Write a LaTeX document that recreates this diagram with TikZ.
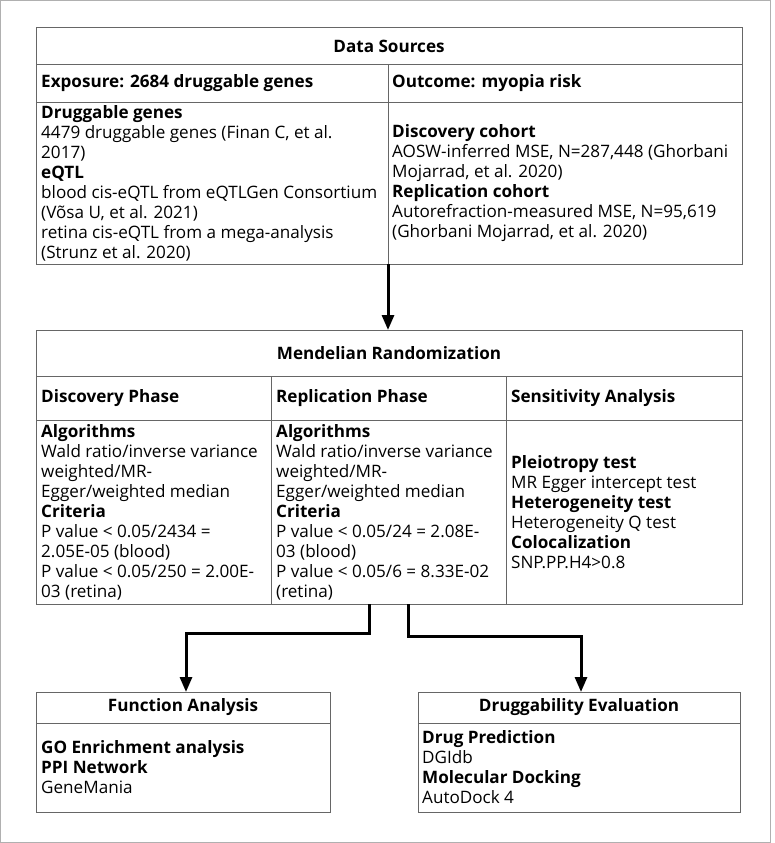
\documentclass[tikz,border=0pt]{standalone}
\usepackage{fontspec}
\setmainfont{Open Sans}
\usetikzlibrary{arrows.meta}
\definecolor{tline}{HTML}{666666}
\definecolor{frame}{HTML}{B0B0B0}
\newcommand{\fs}{\fontsize{17.1pt}{20pt}\selectfont}
\begin{document}
\begin{tikzpicture}[x=1pt,y=-1pt,
  cell/.style={draw=tline,line width=1pt,anchor=north west,inner sep=0pt,outer sep=0pt},
  ttl/.style={font=\fs\bfseries,inner sep=0pt},
  txt/.style={font=\fs,align=left,anchor=west,inner sep=0pt},
  hd/.style={font=\fs\bfseries,anchor=west,inner sep=0pt},
  flow/.style={line width=3pt,-{Triangle[length=15pt,width=12pt]}}]
\useasboundingbox (0,0) rectangle (775,843);
\draw[frame,line width=1pt] (0.5,0.5) rectangle (770,842);

% Data sources
\node[cell,minimum width=706pt,minimum height=37pt] (dsT) at (36,28) {};
\node[ttl] (dsTt) at (dsT.center) {Data Sources};
\node[cell,minimum width=352pt,minimum height=37pt] (dsEH) at (36,65) {};
\node[cell,minimum width=354pt,minimum height=37pt] (dsOH) at (388,65) {};
\node[hd] (dsEHt) at (41,83.5) {Exposure: 2684 druggable genes};
\node[hd] (dsOHt) at (392,83.5) {Outcome: myopia risk};
\node[cell,minimum width=352pt,minimum height=162pt] (dsEB) at (36,102) {};
\node[cell,minimum width=354pt,minimum height=162pt] (ds) at (388,102) {};
\node[txt] (dsEBt) at (41,183) {\textbf{Druggable genes}\\4479 druggable genes (Finan C, et al.\\2017)\\\textbf{eQTL}\\blood cis-eQTL from eQTLGen Consortium\\(Võsa U, et al. 2021)\\retina cis-eQTL from a mega-analysis\\(Strunz et al. 2020)};
\node[txt] (dsOBt) at (392,183) {\textbf{Discovery cohort}\\AOSW-inferred MSE, N=287,448 (Ghorbani\\Mojarrad, et al. 2020)\\\textbf{Replication cohort}\\Autorefraction-measured MSE, N=95,619\\(Ghorbani Mojarrad, et al. 2020)};

% Mendelian randomization
\node[cell,minimum width=706pt,minimum height=46pt] (mr) at (36,330) {};
\node[ttl] (mrt) at (mr.center) {Mendelian Randomization};
\node[cell,minimum width=235pt,minimum height=44pt] (mrH1) at (36,376) {};
\node[cell,minimum width=235pt,minimum height=44pt] (mrH2) at (271,376) {};
\node[cell,minimum width=236pt,minimum height=44pt] (mrH3) at (506,376) {};
\node[hd] (mrH1t) at (41,398) {Discovery Phase};
\node[hd] (mrH2t) at (276,398) {Replication Phase};
\node[hd] (mrH3t) at (511,398) {Sensitivity Analysis};
\node[cell,minimum width=235pt,minimum height=184pt] (mrB1) at (36,420) {};
\node[cell,minimum width=235pt,minimum height=184pt] (mrB2) at (271,420) {};
\node[cell,minimum width=236pt,minimum height=184pt] (mrB3) at (506,420) {};
\node[txt] (mrB1t) at (41,512) {\textbf{Algorithms}\\Wald ratio/inverse variance\\weighted/MR-\\Egger/weighted median\\\textbf{Criteria}\\P value < 0.05/2434 =\\2.05E-05 (blood)\\P value < 0.05/250 = 2.00E-\\03 (retina)};
\node[txt] (mrB2t) at (276,512) {\textbf{Algorithms}\\Wald ratio/inverse variance\\weighted/MR-\\Egger/weighted median\\\textbf{Criteria}\\P value < 0.05/24 = 2.08E-\\03 (blood)\\P value < 0.05/6 = 8.33E-02\\(retina)};
\node[txt] (mrB3t) at (511,512) {\textbf{Pleiotropy test}\\MR Egger intercept test\\\textbf{Heterogeneity test}\\Heterogeneity Q test\\\textbf{Colocalization}\\SNP.PP.H4>0.8};

% Function analysis
\node[cell,minimum width=294pt,minimum height=31pt] (fa) at (36,692) {};
\node[ttl] (fat) at (fa.center) {Function Analysis};
\node[cell,minimum width=294pt,minimum height=89pt] (faB) at (36,723) {};
\node[txt] (faBt) at (41,767) {\textbf{GO Enrichment analysis}\\\textbf{PPI Network}\\GeneMania};

% Druggability evaluation
\node[cell,minimum width=322pt,minimum height=31pt] (de) at (418,692) {};
\node[ttl] (det) at (de.center) {Druggability Evaluation};
\node[cell,minimum width=322pt,minimum height=89pt] (deB) at (418,723) {};
\node[txt] (deBt) at (422,767) {\textbf{Drug Prediction}\\DGIdb\\\textbf{Molecular Docking}\\AutoDock 4};

% connectors
\coordinate (a0) at (388,264);
\coordinate (a1) at (388,330);
\draw[flow] (a0) -- (a1);
\coordinate (b0) at (369,604);
\coordinate (b1) at (186,692);
\draw[flow] (b0) -- (369,633) -| (b1);
\coordinate (c0) at (408,604);
\coordinate (c1) at (581,692);
\draw[flow] (c0) -- (408,636) -| (c1);
\end{tikzpicture}
\end{document}
